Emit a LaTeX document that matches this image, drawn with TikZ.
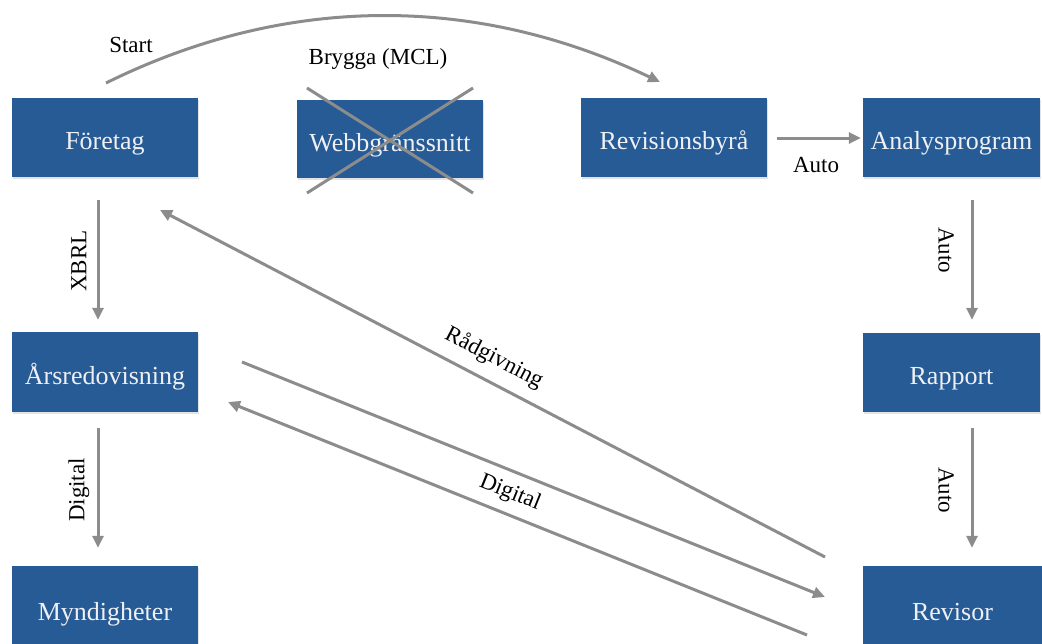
\documentclass[tikz,border=0pt]{standalone}
\usepackage{fontspec}
\setmainfont{Liberation Serif}
\usetikzlibrary{arrows.meta,shadows,calc}
\definecolor{boxblue}{HTML}{275B96}
\definecolor{boxtext}{HTML}{EEF0F3}
\definecolor{linkgrey}{HTML}{8C8C8C}

\begin{document}
\begin{tikzpicture}[x=1pt,y=-1pt,
  unit/.style={fill=boxblue, text=boxtext, minimum width=186pt, minimum height=79pt,
    inner sep=0pt, text height=24pt, text depth=0pt, font=\fontsize{26}{30}\selectfont,
    drop shadow={opacity=0.22, shadow xshift=1pt, shadow yshift=-1.5pt}},
  link/.style={draw=linkgrey, line width=3pt, -{Triangle[length=12pt,width=11pt]}},
  cross/.style={draw=linkgrey, line width=3pt},
  tag/.style={font=\fontsize{23}{28}\selectfont, inner sep=0pt}]
\useasboundingbox (0,0) rectangle (1042,643);
\begin{scope}
\clip (0,0) rectangle (1042,643);

% boxes
\node[unit] (foretag) at (105,137.5) {Företag};
\node[unit, minimum height=78pt] (webb) at (390,139) {Webbgränssnitt};
\node[unit] (revbyra) at (674,137.5) {Revisionsbyrå};
\node[unit, minimum width=177pt] (analys) at (951.5,137.5) {Analysprogram};
\node[unit, minimum height=80pt] (ars) at (105,372) {Årsredovisning};
\node[unit, minimum width=177pt] (rapport) at (951.5,372.5) {Rapport};
\node[unit, minimum height=84pt] (mynd) at (105,608) {Myndigheter};
\node[unit, minimum width=179pt, minimum height=84pt] (revisor) at (952.5,608) {Revisor};

% the web interface is crossed out
\draw[cross] (307,88) -- (473,193);
\draw[cross] (473,88) -- (307,193);

% free ends of the long connectors
\coordinate (startA) at (106,83);
\coordinate (startB) at (660,82);
\coordinate (radA) at (825,557);
\coordinate (radB) at (160,210);
\coordinate (arsA) at (242,362);
\coordinate (arsB) at (825,597);
\coordinate (digA) at (807,635);
\coordinate (digB) at (228,402);

% connectors
\draw[link] (startA) .. controls (290,-8) and (480,-4) .. (startB);
\draw[link] ([shift={(-7,23)}]foretag.south) -- ([shift={(-7,-12)}]ars.north);
\draw[link] ([shift={(-7,16)}]ars.south) -- ([shift={(-7,-18)}]mynd.north);
\draw[link] ([shift={(10,0.5)}]revbyra.east) -- ([shift={(-2,0.5)}]analys.west);
\draw[link] ([shift={(20.5,23)}]analys.south) -- ([shift={(20.5,-13)}]rapport.north);
\draw[link] ([shift={(20.5,16)}]rapport.south) -- ([shift={(19.5,-18)}]revisor.north);
\draw[link] (radA) -- (radB);
\draw[link] (arsA) -- (arsB);
\draw[link] (digA) -- (digB);

% labels
\node[tag] (lstart) at (131,45) {Start};
\node[tag] (lbrygga) at (378,59) {Brygga (MCL)};
\node[tag] (lauto1) at (816,165) {Auto};
\node[tag, rotate=90] (lxbrl) at (79,261) {XBRL};
\node[tag, rotate=90] (ldig1) at (79,490) {Digital};
\node[tag, rotate=-90] (lauto2) at (946,250) {Auto};
\node[tag, rotate=-90] (lauto3) at (946,490) {Auto};
\node[tag, rotate=-27.6] (lrad) at (494,358) {Rådgivning};
\node[tag, rotate=-22] (ldig2) at (510,493) {Digital};
\end{scope}
\end{tikzpicture}
\end{document}
